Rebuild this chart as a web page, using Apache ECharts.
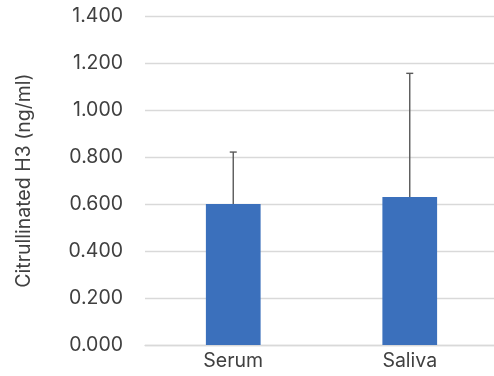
<!DOCTYPE html>
<html><head><meta charset="utf-8">
<script src="https://cdn.jsdelivr.net/npm/echarts@6/dist/echarts.min.js"></script>
<style>html,body{margin:0;padding:0;background:#fff}#c{width:494px;height:376px}</style>
</head><body><div id="c"></div>
<script>
var categories = ['Serum', 'Saliva'];
var means = [0.600, 0.630];
var upper = [0.821, 1.156];
var yTicks = [0, 1.4, 0.2];

var chart = echarts.init(document.getElementById('c'), null, {renderer: 'canvas'});
var font = 'Inter, Roboto, sans-serif';
chart.setOption({
  animation: false,
  grid: {left: 145, right: -4, top: 16, bottom: 31, outerBoundsMode: 'none', containLabel: false},
  xAxis: {
    type: 'category', data: categories,
    axisLine: {lineStyle: {color: '#d9d9d9', width: 1.3}},
    axisTick: {show: false},
    axisLabel: {color: '#404040', fontSize: 19.5, fontFamily: font, margin: 6}
  },
  yAxis: {
    type: 'value', min: yTicks[0], max: yTicks[1], interval: yTicks[2],
    name: 'Citrullinated H3 (ng/ml)', nameLocation: 'middle', nameGap: 111, nameRotate: 90,
    nameTextStyle: {color: '#404040', fontSize: 19.5, fontFamily: font},
    axisLine: {show: false}, axisTick: {show: false},
    splitLine: {lineStyle: {color: '#d9d9d9', width: 1.3}},
    axisLabel: {color: '#404040', fontSize: 19.5, fontFamily: font, margin: 22,
      formatter: function (v) { return v.toFixed(3); }}
  },
  series: [
    {type: 'bar', data: means, barWidth: '31%', itemStyle: {color: '#3b70bc'}, z: 2},
    {type: 'custom', z: 3,
      data: categories.map(function (c, i) { return [i, means[i], upper[i]]; }),
      renderItem: function (params, api) {
        var lo = api.coord([api.value(0), api.value(1)]);
        var hi = api.coord([api.value(0), api.value(2)]);
        var st = {stroke: '#595959', lineWidth: 1.4};
        return {type: 'group', children: [
          {type: 'line', shape: {x1: lo[0], y1: lo[1], x2: hi[0], y2: hi[1]}, style: st},
          {type: 'line', shape: {x1: hi[0] - 3.5, y1: hi[1], x2: hi[0] + 3.5, y2: hi[1]}, style: st}
        ]};
      }
    }
  ]
});
</script></body></html>
